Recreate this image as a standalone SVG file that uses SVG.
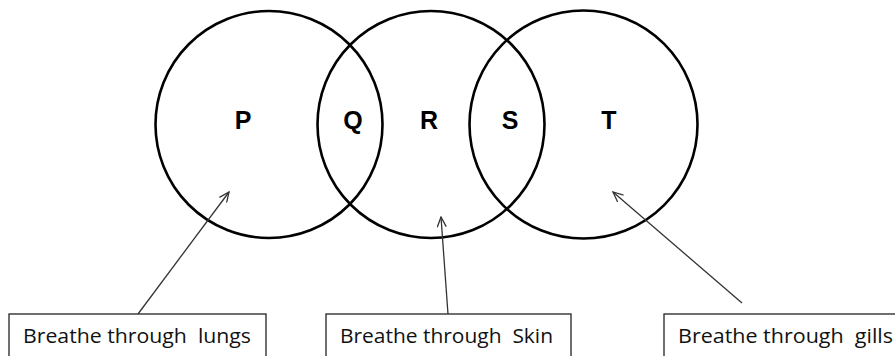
<svg xmlns="http://www.w3.org/2000/svg" width="895" height="356" viewBox="0 0 895 356">
<style>
.set{fill:none;stroke:#000;stroke-width:2.6}
.lbl{font-family:"Liberation Sans",Arial,sans-serif;font-weight:bold;font-size:25px;fill:#000;text-anchor:middle}
.box{fill:#fff;stroke:#222;stroke-width:1.3}
.btxt{font-family:"Open Sans","Liberation Sans",Arial,sans-serif;font-size:20px;fill:#111;white-space:pre}
.conn{fill:none;stroke:#333;stroke-width:1.3;marker-end:url(#arr)}
</style>
<defs>
<marker id="arr" viewBox="0 0 12 10" refX="11" refY="5" markerWidth="12" markerHeight="10" markerUnits="userSpaceOnUse" orient="auto">
<path d="M1,0.5 L11,5 L1,9.5" fill="none" stroke="#333" stroke-width="1.3"/>
</marker>
</defs>
<g id="set-left"><circle class="set" cx="269" cy="124.5" r="113.5"/></g>
<g id="set-middle"><circle class="set" cx="431" cy="124.5" r="113.5"/></g>
<g id="set-right"><circle class="set" cx="583.5" cy="124.5" r="114"/></g>
<g id="region-P"><text class="lbl" x="243" y="129">P</text></g>
<g id="region-Q"><text class="lbl" x="353" y="129">Q</text></g>
<g id="region-R"><text class="lbl" x="429" y="129">R</text></g>
<g id="region-S"><text class="lbl" x="510" y="129">S</text></g>
<g id="region-T"><text class="lbl" x="609" y="129">T</text></g>
<g id="box-lungs"><rect class="box" x="9" y="314" width="257" height="60"/><text class="btxt" x="23" y="343" textLength="228" lengthAdjust="spacingAndGlyphs" xml:space="preserve">Breathe through  lungs</text></g>
<g id="box-skin"><rect class="box" x="326" y="314" width="245" height="60"/><text class="btxt" x="340" y="343" textLength="213" lengthAdjust="spacingAndGlyphs" xml:space="preserve">Breathe through  Skin</text></g>
<g id="box-gills"><rect class="box" x="664" y="314" width="260" height="60"/><text class="btxt" x="678" y="343" textLength="215" lengthAdjust="spacingAndGlyphs" xml:space="preserve">Breathe through  gills</text></g>
<g id="connectors">
<line class="conn" x1="138" y1="314" x2="229" y2="192"/>
<line class="conn" x1="448" y1="314" x2="441" y2="217"/>
<line class="conn" x1="742" y1="303" x2="613" y2="192"/>
</g>
</svg>
